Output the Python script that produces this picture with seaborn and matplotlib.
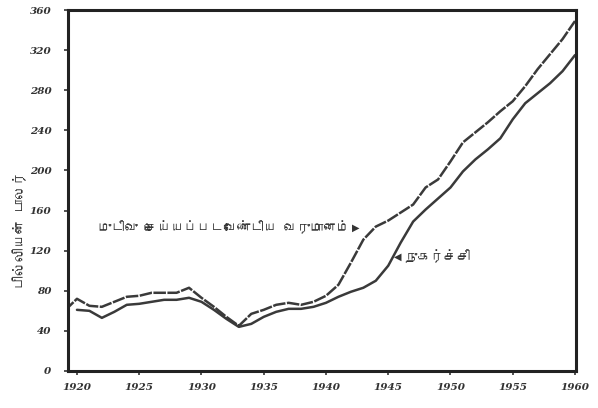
import matplotlib
matplotlib.use("Agg")
import matplotlib.pyplot as plt
from matplotlib import font_manager
import pandas as pd
import seaborn as sns

# Disposable income and consumption, billions of dollars
income_years = list(range(1919, 1961))
income = [60, 72, 65, 64, 69, 74, 75, 78, 78, 78,
          83, 73, 64, 54, 45, 57, 61, 66, 68, 66,
          69, 75, 86, 108, 131, 144, 150, 158, 166, 183,
          191, 209, 228, 238, 248, 259, 269, 284, 301, 316,
          331, 349]

consumption_years = list(range(1920, 1961))
consumption = [61, 60, 53, 59, 66, 67, 69, 71, 71, 73,
               69, 61, 52, 44, 47, 54, 59, 62, 62, 64,
               68, 74, 79, 83, 90, 105, 128, 149, 161, 172,
               183, 199, 211, 221, 232, 251, 267, 277, 287, 299,
               315]

x_ticks = [1920, 1925, 1930, 1935, 1940, 1945, 1950, 1955, 1960]
x_tick_labels = ["1920", "1925", "1930", "1935", "1940", "1945", "1950", "1955", "1960"]
y_ticks = [0, 40, 80, 120, 160, 200, 240, 280, 320, 360]
y_tick_labels = ["0", "40", "80", "120", "160", "200", "240", "280", "320", "360"]

income_label = "முடிவு செய்யப்படவேண்டிய வருமானம்"
consumption_label = "நுகர்ச்சி"
y_label = "பில்லியன் டாலர்"

sns.set_theme(style="white")


def family_with(ch):
    cp = ord(ch)
    seen = set()
    for entry in font_manager.fontManager.ttflist:
        if entry.fname in seen:
            continue
        seen.add(entry.fname)
        try:
            if cp in font_manager.get_font(entry.fname).get_charmap():
                return entry.name
        except Exception:
            pass
    return None


tamil = family_with("த")
families = ([tamil] if tamil else []) + ["DejaVu Sans"]
plt.rcParams["font.family"] = families

df = pd.concat([
    pd.DataFrame({"year": income_years, "value": income, "series": "income"}),
    pd.DataFrame({"year": consumption_years, "value": consumption, "series": "consumption"}),
])

fig = plt.figure(figsize=(5.98, 4.08), dpi=100)
ax = fig.add_axes([68 / 598, 1 - 371 / 408, (576 - 68) / 598, (371 - 10) / 408])

sns.lineplot(data=df, x="year", y="value", hue="series", style="series",
             palette={"income": "#3a3a3a", "consumption": "#3a3a3a"},
             dashes={"income": (5.0, 0.6), "consumption": ""},
             linewidth=1.8, legend=False, ax=ax)

ax.set_xlim(1919.28, 1960.08)
ax.set_ylim(0, 360)
ax.set_xticks(x_ticks)
ax.set_xticklabels(x_tick_labels)
ax.set_yticks(y_ticks)
ax.set_yticklabels(y_tick_labels)
ax.set_xlabel("")
ax.set_ylabel("")

for lab in ax.get_xticklabels() + ax.get_yticklabels():
    lab.set_fontfamily("DejaVu Serif")
    lab.set_fontstyle("italic")
    lab.set_fontweight("bold")
    lab.set_fontsize(7.5)
    lab.set_color("#333333")

ax.tick_params(axis="both", direction="out", length=3, width=1.2,
               color="#333333", left=True, bottom=True)
ax.tick_params(axis="x", pad=6)
ax.tick_params(axis="y", pad=9)

for sp in ax.spines.values():
    sp.set_linewidth(2.2)
    sp.set_color("#222222")

# series labels with pointer triangles
ax.text(1941.9, 143, income_label, ha="right", va="center",
        fontsize=9.5, color="#333333", fontweight="bold")
ax.text(1942.4, 143, "▶", ha="center", va="center",
        fontsize=7, color="#333333", family="DejaVu Sans")
ax.text(1945.8, 114, "◀", ha="center", va="center",
        fontsize=7, color="#333333", family="DejaVu Sans")
ax.text(1946.3, 114, consumption_label, ha="left", va="center",
        fontsize=9.5, color="#333333", fontweight="bold")

fig.text(20 / 598, 1 - 230 / 408, y_label, rotation=90, ha="center", va="center",
         fontsize=10, color="#333333", fontweight="bold")

fig.savefig("out.png", dpi=100, facecolor="white")
